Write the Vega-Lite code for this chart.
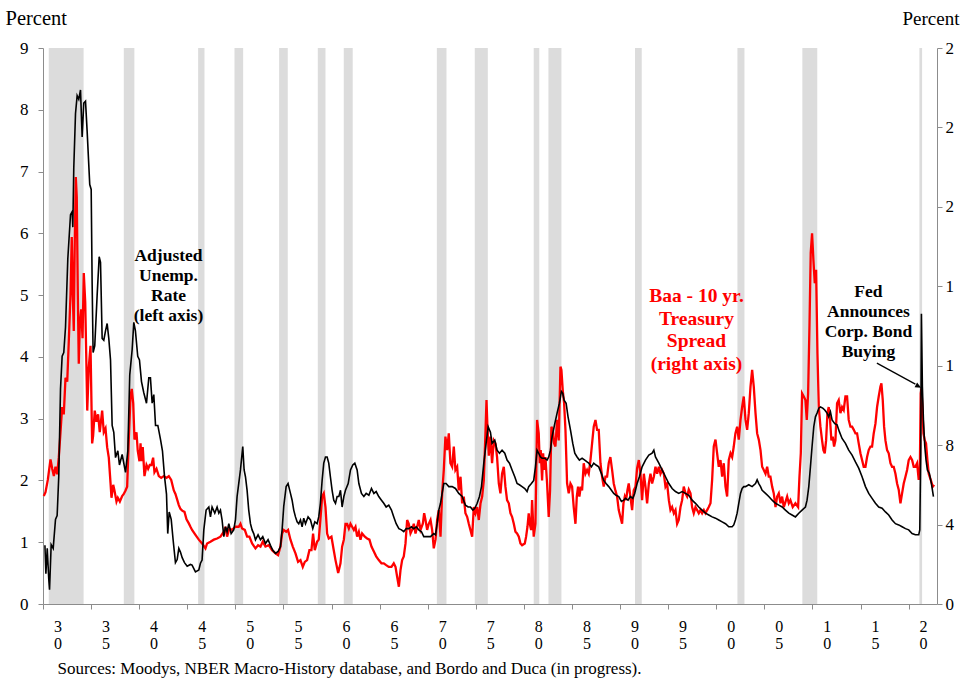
{
  "$schema": "https://vega.github.io/schema/vega-lite/v6.json",
  "width": 894,
  "height": 556,
  "autosize": "none",
  "padding": {"left": 43, "top": 48, "right": 23, "bottom": 75},
  "background": "white",
  "config": {
    "view": {"stroke": null},
    "font": "Liberation Serif",
    "axis": {"grid": false}
  },
  "datasets": {
    "recessions": [
      {"t": 1929.6, "t2": 1933.22}, {"t": 1937.4, "t2": 1938.5}, {"t": 1945.13, "t2": 1945.79},
      {"t": 1948.91, "t2": 1949.81}, {"t": 1953.55, "t2": 1954.45}, {"t": 1957.57, "t2": 1958.37},
      {"t": 1960.27, "t2": 1961.2}, {"t": 1969.95, "t2": 1970.95}, {"t": 1973.89, "t2": 1975.25},
      {"t": 1980.02, "t2": 1980.6}, {"t": 1981.55, "t2": 1982.9}, {"t": 1990.55, "t2": 1991.25},
      {"t": 2001.2, "t2": 2001.93}, {"t": 2007.95, "t2": 2009.5}, {"t": 2020.12, "t2": 2020.4}
    ],
    "unemp": [
      {"t":1929.2,"u":0.95},{"t":1929.3,"u":0.49},{"t":1929.44,"u":0.9},{"t":1929.6,"u":0.4},{"t":1929.68,"u":0.23},
      {"t":1929.85,"u":0.96},{"t":1930.06,"u":0.9},{"t":1930.3,"u":1.37},{"t":1930.47,"u":1.43},{"t":1930.64,"u":2.07},
      {"t":1930.82,"u":3.48},{"t":1930.99,"u":4.01},{"t":1931.16,"u":4.07},{"t":1931.34,"u":4.48},{"t":1931.58,"u":5.59},
      {"t":1931.86,"u":6.3},{"t":1932.03,"u":6.35},{"t":1932.1,"u":6.1},{"t":1932.2,"u":7.06},{"t":1932.38,"u":7.94},
      {"t":1932.55,"u":8.23},{"t":1932.72,"u":8.17},{"t":1932.9,"u":8.32},{"t":1933.07,"u":7.56},{"t":1933.24,"u":8.11},
      {"t":1933.42,"u":8.14},{"t":1933.59,"u":7.65},{"t":1933.86,"u":6.79},{"t":1934.01,"u":6.71},{"t":1934.11,"u":5.18},
      {"t":1934.21,"u":4.07},{"t":1934.38,"u":4.18},{"t":1934.63,"u":5.0},{"t":1934.84,"u":5.62},{"t":1934.98,"u":5.53},
      {"t":1935.15,"u":4.3},{"t":1935.32,"u":4.27},{"t":1935.5,"u":4.42},{"t":1935.67,"u":4.54},{"t":1935.84,"u":4.3},
      {"t":1936.02,"u":3.95},{"t":1936.19,"u":2.89},{"t":1936.36,"u":2.78},{"t":1936.54,"u":2.37},{"t":1936.78,"u":2.48},
      {"t":1936.95,"u":2.25},{"t":1937.23,"u":2.42},{"t":1937.58,"u":2.13},{"t":1937.82,"u":2.48},{"t":1938.02,"u":3.71},
      {"t":1938.27,"u":4.12},{"t":1938.44,"u":4.56},{"t":1938.61,"u":4.42},{"t":1938.85,"u":4.01},{"t":1939.03,"u":3.95},
      {"t":1939.24,"u":3.6},{"t":1939.48,"u":3.42},{"t":1939.76,"u":3.25},{"t":1940.0,"u":3.66},{"t":1940.17,"u":3.66},
      {"t":1940.35,"u":3.25},{"t":1940.52,"u":3.39},{"t":1940.7,"u":2.89},{"t":1940.94,"u":2.89},{"t":1941.22,"u":2.66},
      {"t":1941.42,"u":2.48},{"t":1941.63,"u":2.07},{"t":1941.84,"u":1.78},{"t":1941.97,"u":1.14},{"t":1942.12,"u":1.49},
      {"t":1942.33,"u":1.37},{"t":1942.54,"u":1.02},{"t":1942.77,"u":0.67},{"t":1942.95,"u":0.72},{"t":1943.12,"u":0.9},
      {"t":1943.29,"u":0.84},{"t":1943.47,"u":0.75},{"t":1943.71,"u":0.67},{"t":1943.99,"u":0.61},{"t":1944.33,"u":0.64},
      {"t":1944.5,"u":0.63},{"t":1944.85,"u":0.52},{"t":1945.2,"u":0.55},{"t":1945.37,"u":0.66},{"t":1945.54,"u":0.71},
      {"t":1945.72,"u":1.2},{"t":1945.96,"u":1.52},{"t":1946.24,"u":1.57},{"t":1946.41,"u":1.41},{"t":1946.58,"u":1.57},
      {"t":1946.86,"u":1.47},{"t":1947.1,"u":1.57},{"t":1947.28,"u":1.47},{"t":1947.45,"u":1.52},{"t":1947.62,"u":1.36},
      {"t":1947.8,"u":1.09},{"t":1947.97,"u":1.25},{"t":1948.14,"u":1.17},{"t":1948.32,"u":1.3},{"t":1948.56,"u":1.14},
      {"t":1948.83,"u":1.2},{"t":1949.01,"u":1.36},{"t":1949.18,"u":1.74},{"t":1949.35,"u":1.95},{"t":1949.53,"u":2.17},
      {"t":1949.77,"u":2.55},{"t":1949.91,"u":2.17},{"t":1950.05,"u":2.06},{"t":1950.22,"u":1.84},{"t":1950.39,"u":1.52},
      {"t":1950.57,"u":1.3},{"t":1950.74,"u":1.2},{"t":1950.91,"u":1.14},{"t":1951.09,"u":1.04},{"t":1951.36,"u":1.12},
      {"t":1951.61,"u":1.04},{"t":1951.85,"u":1.09},{"t":1952.13,"u":0.98},{"t":1952.4,"u":1.04},{"t":1952.65,"u":0.95},
      {"t":1952.89,"u":0.87},{"t":1953.17,"u":0.82},{"t":1953.44,"u":0.85},{"t":1953.69,"u":0.93},{"t":1953.86,"u":1.2},
      {"t":1954.03,"u":1.58},{"t":1954.28,"u":1.9},{"t":1954.48,"u":1.95},{"t":1954.73,"u":1.79},{"t":1954.9,"u":1.68},
      {"t":1955.07,"u":1.52},{"t":1955.25,"u":1.41},{"t":1955.42,"u":1.33},{"t":1955.59,"u":1.3},{"t":1955.77,"u":1.36},
      {"t":1955.94,"u":1.25},{"t":1956.11,"u":1.39},{"t":1956.29,"u":1.3},{"t":1956.56,"u":1.41},{"t":1956.81,"u":1.36},
      {"t":1957.05,"u":1.22},{"t":1957.26,"u":1.33},{"t":1957.5,"u":1.3},{"t":1957.67,"u":1.41},{"t":1957.84,"u":1.63},
      {"t":1958.02,"u":2.0},{"t":1958.19,"u":2.28},{"t":1958.37,"u":2.38},{"t":1958.54,"u":2.38},{"t":1958.71,"u":2.28},
      {"t":1958.88,"u":2.06},{"t":1959.06,"u":1.84},{"t":1959.23,"u":1.68},{"t":1959.41,"u":1.63},{"t":1959.58,"u":1.74},
      {"t":1959.76,"u":1.74},{"t":1959.93,"u":1.84},{"t":1960.1,"u":1.57},{"t":1960.28,"u":1.74},{"t":1960.45,"u":1.84},
      {"t":1960.73,"u":1.95},{"t":1960.97,"u":2.17},{"t":1961.21,"u":2.25},{"t":1961.42,"u":2.28},{"t":1961.66,"u":2.17},
      {"t":1961.84,"u":1.95},{"t":1962.11,"u":1.79},{"t":1962.36,"u":1.74},{"t":1962.6,"u":1.79},{"t":1962.88,"u":1.76},
      {"t":1963.15,"u":1.87},{"t":1963.4,"u":1.79},{"t":1963.64,"u":1.82},{"t":1963.91,"u":1.74},{"t":1964.19,"u":1.68},
      {"t":1964.43,"u":1.63},{"t":1964.68,"u":1.57},{"t":1964.95,"u":1.6},{"t":1965.23,"u":1.52},{"t":1965.47,"u":1.41},
      {"t":1965.72,"u":1.3},{"t":1966.0,"u":1.22},{"t":1966.27,"u":1.2},{"t":1966.51,"u":1.17},{"t":1966.76,"u":1.22},
      {"t":1967.03,"u":1.22},{"t":1967.31,"u":1.25},{"t":1967.55,"u":1.22},{"t":1967.8,"u":1.25},{"t":1968.07,"u":1.2},
      {"t":1968.35,"u":1.17},{"t":1968.59,"u":1.09},{"t":1968.94,"u":1.09},{"t":1969.29,"u":1.09},{"t":1969.63,"u":1.14},
      {"t":1969.81,"u":1.12},{"t":1969.98,"u":1.3},{"t":1970.15,"u":1.52},{"t":1970.33,"u":1.63},{"t":1970.5,"u":1.79},
      {"t":1970.67,"u":1.95},{"t":1970.91,"u":1.95},{"t":1971.19,"u":1.9},{"t":1971.54,"u":1.9},{"t":1971.88,"u":1.87},
      {"t":1972.23,"u":1.79},{"t":1972.58,"u":1.74},{"t":1972.92,"u":1.6},{"t":1973.2,"u":1.57},{"t":1973.44,"u":1.57},
      {"t":1973.69,"u":1.52},{"t":1973.9,"u":1.55},{"t":1974.14,"u":1.63},{"t":1974.38,"u":1.74},{"t":1974.59,"u":1.9},
      {"t":1974.83,"u":2.28},{"t":1975.07,"u":2.6},{"t":1975.28,"u":2.87},{"t":1975.52,"u":2.78},{"t":1975.69,"u":2.6},
      {"t":1975.97,"u":2.65},{"t":1976.21,"u":2.49},{"t":1976.46,"u":2.44},{"t":1976.73,"u":2.49},{"t":1977.01,"u":2.44},
      {"t":1977.25,"u":2.33},{"t":1977.5,"u":2.28},{"t":1977.77,"u":2.17},{"t":1978.05,"u":2.06},{"t":1978.29,"u":1.95},
      {"t":1978.53,"u":1.93},{"t":1978.81,"u":1.9},{"t":1979.09,"u":1.87},{"t":1979.33,"u":1.82},{"t":1979.5,"u":1.9},
      {"t":1979.78,"u":1.95},{"t":1980.02,"u":2.0},{"t":1980.2,"u":2.22},{"t":1980.37,"u":2.49},{"t":1980.54,"u":2.44},
      {"t":1980.72,"u":2.38},{"t":1980.89,"u":2.36},{"t":1981.17,"u":2.36},{"t":1981.41,"u":2.33},{"t":1981.58,"u":2.38},
      {"t":1981.76,"u":2.49},{"t":1981.93,"u":2.71},{"t":1982.21,"u":2.92},{"t":1982.45,"u":3.09},{"t":1982.69,"u":3.25},
      {"t":1982.9,"u":3.44},{"t":1983.04,"u":3.41},{"t":1983.18,"u":3.3},{"t":1983.39,"u":3.25},{"t":1983.59,"u":3.03},
      {"t":1983.84,"u":2.82},{"t":1984.08,"u":2.6},{"t":1984.29,"u":2.44},{"t":1984.53,"u":2.38},{"t":1984.77,"u":2.33},
      {"t":1985.05,"u":2.36},{"t":1985.33,"u":2.33},{"t":1985.57,"u":2.3},{"t":1985.74,"u":2.28},{"t":1986.02,"u":2.22},
      {"t":1986.26,"u":2.28},{"t":1986.5,"u":2.25},{"t":1986.78,"u":2.22},{"t":1987.06,"u":2.11},{"t":1987.3,"u":2.0},
      {"t":1987.54,"u":1.95},{"t":1987.82,"u":1.9},{"t":1988.1,"u":1.84},{"t":1988.34,"u":1.79},{"t":1988.58,"u":1.76},
      {"t":1988.86,"u":1.74},{"t":1989.14,"u":1.66},{"t":1989.38,"u":1.68},{"t":1989.55,"u":1.71},{"t":1989.83,"u":1.68},
      {"t":1990.07,"u":1.74},{"t":1990.32,"u":1.71},{"t":1990.52,"u":1.79},{"t":1990.77,"u":1.95},{"t":1991.01,"u":2.06},
      {"t":1991.29,"u":2.22},{"t":1991.64,"u":2.33},{"t":1991.99,"u":2.41},{"t":1992.33,"u":2.44},{"t":1992.51,"u":2.49},
      {"t":1992.68,"u":2.38},{"t":1993.03,"u":2.28},{"t":1993.37,"u":2.17},{"t":1993.72,"u":2.06},{"t":1994.07,"u":1.95},
      {"t":1994.41,"u":1.87},{"t":1994.76,"u":1.82},{"t":1995.1,"u":1.79},{"t":1995.45,"u":1.82},{"t":1995.8,"u":1.79},
      {"t":1996.14,"u":1.76},{"t":1996.49,"u":1.68},{"t":1996.84,"u":1.63},{"t":1997.18,"u":1.57},{"t":1997.53,"u":1.52},
      {"t":1997.88,"u":1.47},{"t":1998.22,"u":1.44},{"t":1998.57,"u":1.41},{"t":1998.92,"u":1.39},{"t":1999.26,"u":1.36},
      {"t":1999.61,"u":1.33},{"t":1999.96,"u":1.3},{"t":2000.3,"u":1.25},{"t":2000.65,"u":1.25},{"t":2000.82,"u":1.28},
      {"t":2000.99,"u":1.36},{"t":2001.17,"u":1.47},{"t":2001.34,"u":1.63},{"t":2001.52,"u":1.79},{"t":2001.69,"u":1.87},
      {"t":2001.86,"u":1.9},{"t":2002.04,"u":1.9},{"t":2002.38,"u":1.93},{"t":2002.73,"u":1.9},{"t":2003.08,"u":1.95},
      {"t":2003.25,"u":2.01},{"t":2003.42,"u":1.95},{"t":2003.6,"u":1.9},{"t":2003.77,"u":1.84},{"t":2004.12,"u":1.79},
      {"t":2004.46,"u":1.74},{"t":2004.81,"u":1.68},{"t":2005.16,"u":1.63},{"t":2005.5,"u":1.6},{"t":2005.85,"u":1.57},
      {"t":2006.19,"u":1.52},{"t":2006.54,"u":1.47},{"t":2006.88,"u":1.44},{"t":2007.23,"u":1.41},{"t":2007.58,"u":1.47},
      {"t":2007.92,"u":1.52},{"t":2008.27,"u":1.57},{"t":2008.44,"u":1.68},{"t":2008.62,"u":1.9},{"t":2008.79,"u":2.22},
      {"t":2008.96,"u":2.55},{"t":2009.14,"u":2.87},{"t":2009.31,"u":3.03},{"t":2009.48,"u":3.09},{"t":2009.66,"u":3.17},
      {"t":2009.83,"u":3.19},{"t":2010.07,"u":3.17},{"t":2010.28,"u":3.14},{"t":2010.52,"u":3.09},{"t":2010.69,"u":3.03},
      {"t":2010.87,"u":3.11},{"t":2011.04,"u":2.98},{"t":2011.32,"u":2.92},{"t":2011.56,"u":2.9},{"t":2011.8,"u":2.79},
      {"t":2012.08,"u":2.68},{"t":2012.43,"u":2.6},{"t":2012.77,"u":2.49},{"t":2013.12,"u":2.41},{"t":2013.47,"u":2.3},
      {"t":2013.81,"u":2.2},{"t":2014.16,"u":2.06},{"t":2014.51,"u":1.9},{"t":2014.85,"u":1.79},{"t":2015.2,"u":1.71},
      {"t":2015.55,"u":1.63},{"t":2015.89,"u":1.57},{"t":2016.24,"u":1.55},{"t":2016.59,"u":1.49},{"t":2016.93,"u":1.44},
      {"t":2017.28,"u":1.36},{"t":2017.63,"u":1.3},{"t":2017.97,"u":1.28},{"t":2018.32,"u":1.25},{"t":2018.67,"u":1.22},
      {"t":2019.01,"u":1.2},{"t":2019.36,"u":1.14},{"t":2019.7,"u":1.12},{"t":2020.05,"u":1.12},{"t":2020.16,"u":1.2},
      {"t":2020.26,"u":2.44},{"t":2020.33,"u":4.7},{"t":2020.43,"u":3.52},{"t":2020.54,"u":2.98},{"t":2020.68,"u":2.55},
      {"t":2020.81,"u":2.33},{"t":2020.95,"u":2.17},{"t":2021.16,"u":2.11},{"t":2021.37,"u":1.95},{"t":2021.58,"u":1.74}
    ],
    "spread": [
      {"t":1929.08,"r":5.44},{"t":1929.26,"r":5.63},{"t":1929.5,"r":6.25},{"t":1929.78,"r":7.28},{"t":1929.96,"r":6.81},
      {"t":1930.13,"r":6.44},{"t":1930.3,"r":6.91},{"t":1930.47,"r":6.53},{"t":1930.64,"r":7.37},{"t":1930.82,"r":8.65},
      {"t":1930.99,"r":9.92},{"t":1931.16,"r":9.55},{"t":1931.34,"r":11.39},{"t":1931.52,"r":11.2},{"t":1931.68,"r":13.22},
      {"t":1931.86,"r":15.59},{"t":1931.99,"r":18.48},{"t":1932.1,"r":15.59},{"t":1932.2,"r":13.75},{"t":1932.3,"r":18.14},
      {"t":1932.41,"r":21.5},{"t":1932.51,"r":20.5},{"t":1932.62,"r":15.59},{"t":1932.72,"r":12.1},{"t":1932.83,"r":14.12},
      {"t":1932.97,"r":14.84},{"t":1933.11,"r":13.38},{"t":1933.24,"r":16.67},{"t":1933.39,"r":15.21},{"t":1933.49,"r":12.66},
      {"t":1933.6,"r":9.74},{"t":1933.76,"r":11.92},{"t":1933.94,"r":13.0},{"t":1934.11,"r":8.09},{"t":1934.21,"r":8.46},
      {"t":1934.38,"r":9.74},{"t":1934.56,"r":9.18},{"t":1934.73,"r":9.55},{"t":1934.9,"r":8.65},{"t":1935.15,"r":9.74},
      {"t":1935.32,"r":8.65},{"t":1935.5,"r":8.84},{"t":1935.67,"r":7.9},{"t":1935.84,"r":7.37},{"t":1936.02,"r":6.1},
      {"t":1936.12,"r":5.35},{"t":1936.3,"r":6.0},{"t":1936.43,"r":5.72},{"t":1936.64,"r":5.16},{"t":1936.78,"r":5.35},
      {"t":1936.99,"r":5.16},{"t":1937.23,"r":5.44},{"t":1937.4,"r":5.54},{"t":1937.58,"r":5.72},{"t":1937.75,"r":5.91},
      {"t":1937.92,"r":8.28},{"t":1938.1,"r":10.48},{"t":1938.23,"r":10.83},{"t":1938.38,"r":10.11},{"t":1938.51,"r":8.28},
      {"t":1938.72,"r":8.65},{"t":1938.85,"r":7.72},{"t":1939.03,"r":7.19},{"t":1939.14,"r":8.09},{"t":1939.24,"r":7.19},
      {"t":1939.37,"r":7.9},{"t":1939.55,"r":6.44},{"t":1939.76,"r":7.0},{"t":1939.93,"r":6.81},{"t":1940.1,"r":7.0},
      {"t":1940.28,"r":7.0},{"t":1940.45,"r":7.37},{"t":1940.59,"r":6.63},{"t":1940.8,"r":6.81},{"t":1941.04,"r":6.44},
      {"t":1941.29,"r":6.35},{"t":1941.56,"r":6.44},{"t":1941.84,"r":6.35},{"t":1942.08,"r":6.44},{"t":1942.33,"r":6.25},
      {"t":1942.6,"r":5.72},{"t":1942.77,"r":5.54},{"t":1942.95,"r":5.26},{"t":1943.12,"r":4.98},{"t":1943.29,"r":4.79},
      {"t":1943.47,"r":4.7},{"t":1943.71,"r":4.64},{"t":1943.92,"r":4.26},{"t":1944.16,"r":4.06},{"t":1944.33,"r":3.89},
      {"t":1944.5,"r":3.73},{"t":1944.85,"r":3.48},{"t":1945.2,"r":3.24},{"t":1945.54,"r":3.05},{"t":1945.89,"r":2.8},
      {"t":1946.06,"r":3.05},{"t":1946.41,"r":3.14},{"t":1946.76,"r":3.24},{"t":1947.1,"r":3.3},{"t":1947.45,"r":3.39},
      {"t":1947.8,"r":3.64},{"t":1947.97,"r":3.89},{"t":1948.14,"r":3.39},{"t":1948.38,"r":3.8},{"t":1948.66,"r":3.73},
      {"t":1949.01,"r":3.89},{"t":1949.35,"r":3.89},{"t":1949.53,"r":4.04},{"t":1949.7,"r":3.8},{"t":1949.98,"r":3.73},
      {"t":1950.22,"r":3.39},{"t":1950.46,"r":3.39},{"t":1950.74,"r":3.05},{"t":1951.09,"r":2.8},{"t":1951.36,"r":2.96},
      {"t":1951.61,"r":2.89},{"t":1951.85,"r":3.14},{"t":1952.13,"r":2.89},{"t":1952.47,"r":2.96},{"t":1952.82,"r":2.71},
      {"t":1953.17,"r":2.55},{"t":1953.44,"r":2.46},{"t":1953.69,"r":2.89},{"t":1953.86,"r":3.55},{"t":1954.03,"r":3.73},
      {"t":1954.28,"r":3.64},{"t":1954.48,"r":3.73},{"t":1954.73,"r":3.24},{"t":1954.97,"r":2.89},{"t":1955.25,"r":2.55},
      {"t":1955.52,"r":2.12},{"t":1955.77,"r":2.21},{"t":1956.01,"r":1.87},{"t":1956.22,"r":2.12},{"t":1956.46,"r":2.21},
      {"t":1956.7,"r":2.71},{"t":1956.91,"r":2.71},{"t":1957.08,"r":3.55},{"t":1957.26,"r":2.71},{"t":1957.5,"r":3.14},
      {"t":1957.67,"r":3.24},{"t":1957.84,"r":4.23},{"t":1958.02,"r":5.41},{"t":1958.19,"r":5.57},{"t":1958.37,"r":4.88},
      {"t":1958.54,"r":3.55},{"t":1958.71,"r":3.3},{"t":1958.99,"r":3.39},{"t":1959.23,"r":2.71},{"t":1959.41,"r":2.21},
      {"t":1959.69,"r":1.56},{"t":1959.93,"r":2.05},{"t":1960.1,"r":2.89},{"t":1960.28,"r":3.24},{"t":1960.45,"r":4.04},
      {"t":1960.62,"r":4.04},{"t":1960.8,"r":3.8},{"t":1960.97,"r":4.04},{"t":1961.14,"r":3.89},{"t":1961.32,"r":3.73},
      {"t":1961.49,"r":3.89},{"t":1961.66,"r":3.39},{"t":1961.84,"r":3.64},{"t":1962.01,"r":3.24},{"t":1962.18,"r":3.55},
      {"t":1962.46,"r":3.39},{"t":1962.7,"r":3.3},{"t":1962.94,"r":3.24},{"t":1963.15,"r":2.89},{"t":1963.4,"r":2.64},
      {"t":1963.64,"r":2.4},{"t":1963.91,"r":2.21},{"t":1964.19,"r":2.05},{"t":1964.43,"r":2.05},{"t":1964.68,"r":1.96},
      {"t":1964.95,"r":1.87},{"t":1965.23,"r":1.87},{"t":1965.47,"r":2.05},{"t":1965.65,"r":1.87},{"t":1965.82,"r":1.37},
      {"t":1966.0,"r":0.87},{"t":1966.17,"r":1.71},{"t":1966.34,"r":2.21},{"t":1966.51,"r":2.4},{"t":1966.69,"r":3.05},
      {"t":1966.86,"r":4.23},{"t":1967.03,"r":4.04},{"t":1967.21,"r":3.55},{"t":1967.38,"r":3.73},{"t":1967.55,"r":4.04},
      {"t":1967.73,"r":3.55},{"t":1967.9,"r":3.89},{"t":1968.07,"r":4.23},{"t":1968.25,"r":3.73},{"t":1968.49,"r":4.04},
      {"t":1968.63,"r":4.57},{"t":1968.77,"r":4.23},{"t":1968.94,"r":3.73},{"t":1969.11,"r":4.04},{"t":1969.29,"r":4.23},
      {"t":1969.46,"r":3.73},{"t":1969.63,"r":2.8},{"t":1969.81,"r":3.24},{"t":1969.98,"r":4.23},{"t":1970.15,"r":4.73},
      {"t":1970.33,"r":3.39},{"t":1970.5,"r":5.57},{"t":1970.67,"r":6.75},{"t":1970.84,"r":8.43},{"t":1971.02,"r":7.75},
      {"t":1971.19,"r":8.59},{"t":1971.36,"r":7.09},{"t":1971.54,"r":6.91},{"t":1971.71,"r":7.93},{"t":1971.88,"r":6.75},
      {"t":1972.06,"r":6.91},{"t":1972.23,"r":5.72},{"t":1972.41,"r":6.41},{"t":1972.58,"r":5.07},{"t":1972.75,"r":5.41},
      {"t":1972.92,"r":4.57},{"t":1973.1,"r":4.39},{"t":1973.27,"r":4.04},{"t":1973.44,"r":3.73},{"t":1973.62,"r":3.39},
      {"t":1973.79,"r":4.88},{"t":1973.97,"r":4.57},{"t":1974.14,"r":4.88},{"t":1974.31,"r":4.23},{"t":1974.49,"r":5.07},
      {"t":1974.66,"r":5.41},{"t":1974.83,"r":6.22},{"t":1975.0,"r":8.59},{"t":1975.11,"r":10.27},{"t":1975.2,"r":9.02},
      {"t":1975.35,"r":7.47},{"t":1975.52,"r":8.43},{"t":1975.69,"r":7.09},{"t":1975.87,"r":8.24},{"t":1976.04,"r":8.09},
      {"t":1976.21,"r":7.4},{"t":1976.39,"r":6.07},{"t":1976.56,"r":5.57},{"t":1976.73,"r":6.56},{"t":1976.91,"r":6.91},
      {"t":1977.08,"r":5.91},{"t":1977.25,"r":5.23},{"t":1977.43,"r":5.07},{"t":1977.6,"r":4.57},{"t":1977.77,"r":4.39},
      {"t":1977.95,"r":4.04},{"t":1978.12,"r":3.64},{"t":1978.29,"r":3.55},{"t":1978.47,"r":3.39},{"t":1978.64,"r":3.05},
      {"t":1978.81,"r":2.96},{"t":1979.09,"r":3.05},{"t":1979.23,"r":3.39},{"t":1979.37,"r":3.89},{"t":1979.5,"r":4.57},
      {"t":1979.61,"r":4.04},{"t":1979.75,"r":3.73},{"t":1979.85,"r":5.23},{"t":1980.02,"r":3.39},{"t":1980.2,"r":4.04},
      {"t":1980.37,"r":9.27},{"t":1980.54,"r":8.59},{"t":1980.65,"r":7.09},{"t":1980.75,"r":7.75},{"t":1980.89,"r":6.22},
      {"t":1981.0,"r":7.59},{"t":1981.1,"r":6.75},{"t":1981.24,"r":7.4},{"t":1981.41,"r":6.07},{"t":1981.58,"r":4.39},
      {"t":1981.72,"r":5.72},{"t":1981.86,"r":8.93},{"t":1982.0,"r":8.77},{"t":1982.14,"r":8.09},{"t":1982.28,"r":7.93},
      {"t":1982.45,"r":9.27},{"t":1982.62,"r":8.24},{"t":1982.8,"r":11.95},{"t":1982.9,"r":11.79},{"t":1983.04,"r":10.76},
      {"t":1983.18,"r":10.11},{"t":1983.32,"r":8.77},{"t":1983.49,"r":6.07},{"t":1983.66,"r":5.57},{"t":1983.84,"r":6.07},
      {"t":1984.01,"r":5.91},{"t":1984.18,"r":4.88},{"t":1984.36,"r":4.04},{"t":1984.5,"r":5.41},{"t":1984.63,"r":5.91},
      {"t":1984.77,"r":5.41},{"t":1984.91,"r":5.91},{"t":1985.05,"r":5.72},{"t":1985.22,"r":7.09},{"t":1985.4,"r":6.56},
      {"t":1985.57,"r":6.75},{"t":1985.74,"r":6.56},{"t":1985.92,"r":7.25},{"t":1986.09,"r":8.09},{"t":1986.26,"r":8.93},
      {"t":1986.44,"r":9.27},{"t":1986.61,"r":8.77},{"t":1986.78,"r":8.77},{"t":1986.96,"r":7.09},{"t":1987.13,"r":6.41},
      {"t":1987.3,"r":5.91},{"t":1987.48,"r":6.41},{"t":1987.65,"r":6.41},{"t":1987.82,"r":7.09},{"t":1987.99,"r":7.4},
      {"t":1988.17,"r":6.75},{"t":1988.34,"r":6.07},{"t":1988.51,"r":5.72},{"t":1988.69,"r":5.41},{"t":1988.86,"r":4.73},
      {"t":1989.03,"r":4.39},{"t":1989.21,"r":4.04},{"t":1989.35,"r":5.07},{"t":1989.49,"r":5.41},{"t":1989.62,"r":5.23},
      {"t":1989.76,"r":5.72},{"t":1989.9,"r":6.07},{"t":1990.07,"r":5.41},{"t":1990.25,"r":4.73},{"t":1990.42,"r":5.72},
      {"t":1990.6,"r":5.91},{"t":1990.77,"r":6.84},{"t":1990.95,"r":7.25},{"t":1991.12,"r":6.56},{"t":1991.29,"r":5.23},
      {"t":1991.47,"r":6.56},{"t":1991.64,"r":5.91},{"t":1991.81,"r":5.07},{"t":1991.99,"r":6.07},{"t":1992.16,"r":6.56},
      {"t":1992.33,"r":6.07},{"t":1992.51,"r":6.41},{"t":1992.68,"r":6.91},{"t":1992.85,"r":6.56},{"t":1993.03,"r":6.91},
      {"t":1993.2,"r":6.56},{"t":1993.37,"r":6.75},{"t":1993.55,"r":6.56},{"t":1993.72,"r":5.91},{"t":1993.89,"r":6.07},
      {"t":1994.07,"r":5.23},{"t":1994.24,"r":4.73},{"t":1994.41,"r":4.88},{"t":1994.59,"r":4.57},{"t":1994.76,"r":4.73},
      {"t":1994.93,"r":4.04},{"t":1995.1,"r":4.23},{"t":1995.28,"r":4.88},{"t":1995.45,"r":5.23},{"t":1995.62,"r":5.91},
      {"t":1995.8,"r":5.57},{"t":1995.97,"r":5.41},{"t":1996.14,"r":5.76},{"t":1996.32,"r":5.57},{"t":1996.49,"r":4.88},
      {"t":1996.66,"r":4.57},{"t":1996.84,"r":4.88},{"t":1997.01,"r":4.73},{"t":1997.18,"r":4.57},{"t":1997.36,"r":4.73},
      {"t":1997.53,"r":4.57},{"t":1997.71,"r":4.73},{"t":1997.88,"r":4.57},{"t":1998.05,"r":4.73},{"t":1998.22,"r":4.88},
      {"t":1998.4,"r":5.07},{"t":1998.57,"r":6.25},{"t":1998.74,"r":7.93},{"t":1998.92,"r":8.28},{"t":1999.09,"r":7.59},
      {"t":1999.26,"r":6.91},{"t":1999.44,"r":7.25},{"t":1999.61,"r":6.41},{"t":1999.78,"r":7.09},{"t":1999.96,"r":5.91},
      {"t":2000.13,"r":5.41},{"t":2000.3,"r":7.25},{"t":2000.48,"r":7.59},{"t":2000.65,"r":7.4},{"t":2000.82,"r":7.93},
      {"t":2000.99,"r":8.59},{"t":2001.17,"r":8.93},{"t":2001.34,"r":8.28},{"t":2001.52,"r":9.27},{"t":2001.69,"r":9.92},
      {"t":2001.86,"r":10.45},{"t":2002.04,"r":9.27},{"t":2002.21,"r":8.77},{"t":2002.38,"r":9.61},{"t":2002.56,"r":10.95},
      {"t":2002.73,"r":11.79},{"t":2002.9,"r":10.95},{"t":2003.08,"r":9.61},{"t":2003.25,"r":8.59},{"t":2003.42,"r":8.28},
      {"t":2003.6,"r":7.75},{"t":2003.77,"r":6.91},{"t":2003.94,"r":6.75},{"t":2004.12,"r":6.56},{"t":2004.29,"r":6.91},
      {"t":2004.46,"r":6.41},{"t":2004.63,"r":6.41},{"t":2004.81,"r":5.91},{"t":2004.98,"r":5.57},{"t":2005.16,"r":4.88},
      {"t":2005.33,"r":5.41},{"t":2005.5,"r":5.57},{"t":2005.68,"r":5.07},{"t":2005.85,"r":5.41},{"t":2006.02,"r":4.88},
      {"t":2006.19,"r":5.13},{"t":2006.37,"r":5.41},{"t":2006.54,"r":5.07},{"t":2006.71,"r":5.23},{"t":2006.95,"r":4.88},
      {"t":2007.23,"r":5.07},{"t":2007.51,"r":4.88},{"t":2007.65,"r":6.41},{"t":2007.79,"r":7.59},{"t":2007.92,"r":10.61},
      {"t":2008.1,"r":10.45},{"t":2008.27,"r":10.27},{"t":2008.41,"r":9.27},{"t":2008.55,"r":10.61},{"t":2008.69,"r":13.97},
      {"t":2008.82,"r":17.67},{"t":2008.96,"r":18.67},{"t":2009.1,"r":17.33},{"t":2009.24,"r":16.15},{"t":2009.38,"r":16.83},
      {"t":2009.52,"r":12.63},{"t":2009.66,"r":9.92},{"t":2009.83,"r":8.93},{"t":2010.0,"r":8.24},{"t":2010.14,"r":7.75},
      {"t":2010.28,"r":7.59},{"t":2010.42,"r":8.24},{"t":2010.56,"r":9.61},{"t":2010.69,"r":9.92},{"t":2010.83,"r":9.27},
      {"t":2010.97,"r":8.24},{"t":2011.11,"r":8.43},{"t":2011.25,"r":7.93},{"t":2011.39,"r":8.24},{"t":2011.56,"r":10.11},
      {"t":2011.73,"r":10.27},{"t":2011.91,"r":9.61},{"t":2012.08,"r":9.92},{"t":2012.25,"r":9.77},{"t":2012.43,"r":10.45},
      {"t":2012.6,"r":10.45},{"t":2012.77,"r":9.27},{"t":2012.95,"r":8.93},{"t":2013.12,"r":8.93},{"t":2013.3,"r":8.77},
      {"t":2013.47,"r":8.59},{"t":2013.64,"r":8.59},{"t":2013.81,"r":8.09},{"t":2013.99,"r":7.59},{"t":2014.16,"r":7.25},
      {"t":2014.33,"r":6.91},{"t":2014.51,"r":6.91},{"t":2014.68,"r":7.4},{"t":2014.85,"r":7.75},{"t":2015.03,"r":7.93},
      {"t":2015.2,"r":7.93},{"t":2015.37,"r":8.59},{"t":2015.55,"r":9.08},{"t":2015.72,"r":9.92},{"t":2015.89,"r":10.45},
      {"t":2016.07,"r":10.95},{"t":2016.17,"r":11.11},{"t":2016.31,"r":10.27},{"t":2016.45,"r":8.93},{"t":2016.59,"r":8.24},
      {"t":2016.76,"r":7.75},{"t":2016.93,"r":7.59},{"t":2017.11,"r":7.09},{"t":2017.28,"r":6.91},{"t":2017.45,"r":6.91},
      {"t":2017.63,"r":6.56},{"t":2017.8,"r":6.07},{"t":2017.97,"r":5.76},{"t":2018.15,"r":5.07},{"t":2018.32,"r":5.57},
      {"t":2018.49,"r":6.07},{"t":2018.67,"r":6.41},{"t":2018.84,"r":6.75},{"t":2019.01,"r":7.25},{"t":2019.19,"r":7.4},
      {"t":2019.36,"r":7.25},{"t":2019.53,"r":6.91},{"t":2019.7,"r":6.91},{"t":2019.88,"r":7.09},{"t":2020.05,"r":6.25},
      {"t":2020.16,"r":6.56},{"t":2020.26,"r":10.61},{"t":2020.33,"r":10.86},{"t":2020.43,"r":9.92},{"t":2020.54,"r":8.59},
      {"t":2020.68,"r":8.24},{"t":2020.81,"r":8.09},{"t":2020.95,"r":7.25},{"t":2021.09,"r":6.56},{"t":2021.3,"r":6.25},
      {"t":2021.51,"r":5.91},{"t":2021.65,"r":6.0}
    ]
  },
  "layer": [
    {
      "data": {"name": "recessions"},
      "mark": {"type": "rect", "color": "#dcdcdc"},
      "encoding": {
        "x": {
          "field": "t",
          "type": "quantitative",
          "scale": {"domain": [1929.0, 2021.95], "nice": false, "zero": false},
          "title": "Sources: Moodys, NBER Macro-History database, and Bordo and Duca (in progress).",
          "axis": {
            "values": [1930.5,1935.5,1940.5,1945.5,1950.5,1955.5,1960.5,1965.5,1970.5,1975.5,1980.5,1985.5,1990.5,1995.5,2000.5,2005.5,2010.5,2015.5,2020.5],
            "tickOffset": -14.43,
            "labelOffset": 14.43,
            "labelExpr": "[substring(toString(floor(datum.value)), 2, 3), substring(toString(floor(datum.value)), 3, 4)]",
            "labelFont": "Liberation Serif",
            "labelFontSize": 16,
            "labelColor": "#000000",
            "labelLineHeight": 17.7,
            "labelPadding": 9,
            "labelAngle": 0,
            "labelOverlap": false,
            "labelFlush": false,
            "tickSize": 5,
            "tickColor": "#8c8c8c",
            "domainColor": "#8c8c8c",
            "titleFont": "Liberation Serif",
            "titleFontSize": 17,
            "titleFontWeight": "normal",
            "titleColor": "#000000",
            "titleAnchor": "start",
            "titleAlign": "left",
            "titleBaseline": "middle",
            "titleX": 14,
            "titleY": 64
          }
        },
        "x2": {"field": "t2"}
      }
    },
    {
      "layer": [
        {
          "data": {"name": "spread"},
          "mark": {"type": "line", "color": "#ff0000", "strokeWidth": 2.3, "interpolate": "linear"},
          "encoding": {
            "x": {"field": "t", "type": "quantitative"},
            "y": {
              "field": "r",
              "type": "quantitative",
              "scale": {"domain": [0, 28], "nice": false, "zero": true},
              "axis": {
                "orient": "right",
                "values": [0, 4, 8, 12, 16, 20, 24, 28],
                "labelExpr": "substring(datum.label, 0, 1)",
                "labelFont": "Liberation Serif",
                "labelFontSize": 17,
                "labelColor": "#000000",
                "labelPadding": 3,
                "tickSize": 5,
                "tickColor": "#8c8c8c",
                "domainColor": "#8c8c8c",
                "title": "Percent",
                "titleAngle": 0,
                "titleFont": "Liberation Serif",
                "titleFontSize": 19,
                "titleFontWeight": "normal",
                "titleColor": "#000000",
                "titleAlign": "left",
                "titleBaseline": "middle",
                "titleX": -35,
                "titleY": -30
              }
            }
          }
        },
        {
          "data": {"values": [{}]},
          "mark": {"type": "text", "color": "#ff0000", "font": "Liberation Serif", "fontSize": 19.5, "fontWeight": "bold", "align": "center", "baseline": "alphabetic", "lineHeight": 22.5},
          "encoding": {
            "x": {"datum": 1996.94, "type": "quantitative"},
            "y": {"datum": 15.2, "type": "quantitative"},
            "text": {"value": ["Baa - 10 yr.", "Treasury", "Spread", "(right axis)"]}
          }
        }
      ]
    },
    {
      "layer": [
        {
          "data": {"name": "unemp"},
          "mark": {"type": "line", "color": "#000000", "strokeWidth": 1.6, "interpolate": "linear"},
          "encoding": {
            "x": {"field": "t", "type": "quantitative"},
            "y": {
              "field": "u",
              "type": "quantitative",
              "scale": {"domain": [0, 9], "nice": false, "zero": true},
              "axis": {
                "orient": "left",
                "values": [0, 1, 2, 3, 4, 5, 6, 7, 8, 9],
                "format": "d",
                "labelFont": "Liberation Serif",
                "labelFontSize": 17,
                "labelColor": "#000000",
                "labelPadding": 10,
                "tickSize": 5,
                "tickColor": "#8c8c8c",
                "domainColor": "#8c8c8c",
                "title": "Percent",
                "titleAngle": 0,
                "titleFont": "Liberation Serif",
                "titleFontSize": 20.5,
                "titleFontWeight": "normal",
                "titleColor": "#000000",
                "titleAlign": "left",
                "titleBaseline": "middle",
                "titleX": -38,
                "titleY": -30
              }
            }
          }
        },
        {
          "data": {"values": [{}]},
          "mark": {"type": "text", "color": "#000000", "font": "Liberation Serif", "fontSize": 17.5, "fontWeight": "bold", "align": "center", "baseline": "alphabetic", "lineHeight": 20},
          "encoding": {
            "x": {"datum": 1942.05, "type": "quantitative"},
            "y": {"datum": 5.55, "type": "quantitative"},
            "text": {"value": ["Adjusted", "Unemp.", "Rate", "(left axis)"]}
          }
        },
        {
          "data": {"values": [{}]},
          "mark": {"type": "text", "color": "#000000", "font": "Liberation Serif", "fontSize": 17.5, "fontWeight": "bold", "align": "center", "baseline": "alphabetic", "lineHeight": 20},
          "encoding": {
            "x": {"datum": 2014.82, "type": "quantitative"},
            "y": {"datum": 4.97, "type": "quantitative"},
            "text": {"value": ["Fed", "Announces", "Corp. Bond", "Buying"]}
          }
        },
        {
          "data": {"values": [{}]},
          "mark": {"type": "rule", "color": "#000000", "strokeWidth": 1.3},
          "encoding": {
            "x": {"datum": 2015.7, "type": "quantitative"},
            "y": {"datum": 3.9, "type": "quantitative"},
            "x2": {"datum": 2019.7},
            "y2": {"datum": 3.56}
          }
        },
        {
          "data": {"values": [{}]},
          "mark": {"type": "point", "filled": true, "color": "#000000", "opacity": 1, "size": 144, "angle": 28, "strokeWidth": 0, "shape": "M0,0L-1,-0.45L-1,0.45Z"},
          "encoding": {
            "x": {"datum": 2020.3, "type": "quantitative"},
            "y": {"datum": 3.5, "type": "quantitative"}
          }
        }
      ]
    }
  ],
  "resolve": {"scale": {"y": "independent"}}
}
